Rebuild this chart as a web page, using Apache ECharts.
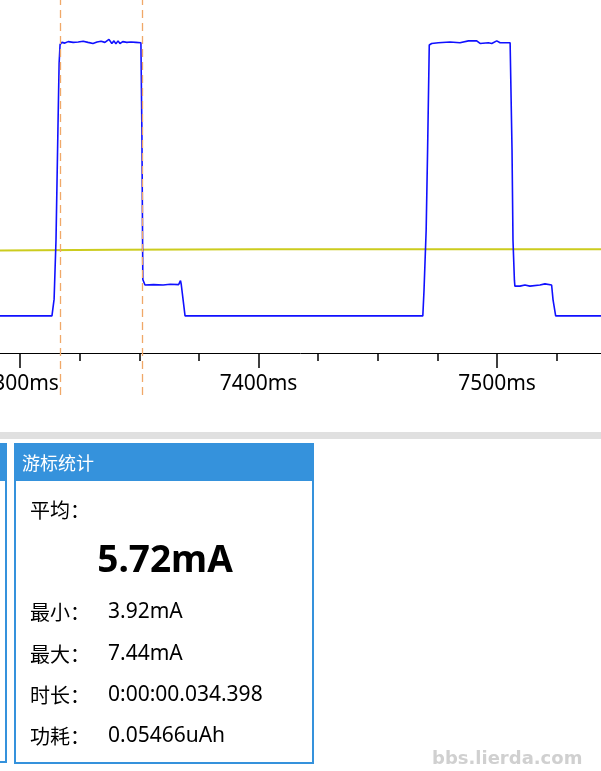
<!DOCTYPE html>
<html>
<head>
<meta charset="utf-8">
<script src="https://cdn.jsdelivr.net/npm/echarts@6/dist/echarts.min.js"></script>
<style>
html,body{margin:0;padding:0;background:#fff;}
#chart{width:601px;height:771px;}
</style>
</head>
<body>
<div id="chart"></div>
<script>
// ---- data (time in ms, current in mA) ----
var blueTime = [7291.6, 7313.4, 7314.3, 7315.1, 7315.9, 7316.4, 7316.8, 7317.6, 7318.8, 7320.2,
  7322.3, 7324.4, 7326.5, 7328.5, 7330.6, 7332.3, 7334.0, 7335.6, 7337.3, 7338.5,
  7339.4, 7340.2, 7341.1, 7341.9, 7343.1, 7344.8, 7346.5, 7348.6, 7350.7, 7351.1,
  7351.5, 7352.4, 7356.0, 7360.0, 7363.0, 7366.5, 7367.3, 7367.6, 7368.2, 7369.2,
  7468.9, 7469.4, 7470.3, 7470.9, 7471.5, 7471.6, 7472.6, 7473.3, 7475.4, 7480.3,
  7484.5, 7488.0, 7491.5, 7492.9, 7496.4, 7497.8, 7499.9, 7501.3, 7505.5, 7505.8,
  7506.3, 7506.7, 7507.3, 7507.5, 7509.6, 7511.7, 7513.8, 7518.0, 7520.1, 7522.9,
  7523.5, 7524.6, 7543.6];
var blueCurrent = [0, 0, 0.45, 2.05, 5.0, 6.8, 7.30, 7.36, 7.34, 7.38,
  7.36, 7.37, 7.39, 7.36, 7.33, 7.37, 7.39, 7.36, 7.44, 7.33,
  7.40, 7.32, 7.40, 7.33, 7.38, 7.36, 7.37, 7.36, 7.35, 5.0,
  0.98, 0.83, 0.84, 0.83, 0.85, 0.84, 0.95, 0.85, 0.80, 0,
  0, 0.69, 2.31, 4.46, 6.88, 7.29, 7.33, 7.29, 7.35, 7.37,
  7.35, 7.40, 7.40, 7.33, 7.35, 7.33, 7.40, 7.35, 7.35, 7.34,
  4.46, 2.04, 0.96, 0.80, 0.80, 0.83, 0.80, 0.83, 0.86, 0.83,
  0.43, 0, 0];
var yellowTime = [7291.6, 7340, 7400, 7460, 7543.6];
var yellowCurrent = [1.76, 1.78, 1.79, 1.79, 1.79];
var cursorTimes = [7316.8, 7351.2];
var statTitle = '游标统计';
var avgLabel = '平均：';
var avgValue = '5.72mA';
var statLabels = ['最小：', '最大：', '时长：', '功耗：'];
var statValues = ['3.92mA', '7.44mA', '0:00:00.034.398', '0.05466uAh'];
var watermark = 'bbs.lierda.com';

function pairs(xs, ys) { return xs.map(function (x, i) { return [x, ys[i]]; }); }

var cjk = '"Noto Sans CJK SC", "Noto Sans", sans-serif';
var latin = '"Noto Sans", "Open Sans", sans-serif';
var panelBlue = '#3592dc';

var graphics = [
  { type: 'rect', shape: { x: 0, y: 432, width: 601, height: 7 }, style: { fill: '#e0e0e0' } },
  // left partial panel
  { type: 'rect', shape: { x: -10, y: 444, width: 16, height: 318 }, style: { fill: 'none', stroke: panelBlue, lineWidth: 2 } },
  { type: 'rect', shape: { x: 0, y: 443, width: 7, height: 38 }, style: { fill: panelBlue } },
  // right panel
  { type: 'rect', shape: { x: 15, y: 444, width: 298, height: 319 }, style: { fill: 'none', stroke: panelBlue, lineWidth: 2 } },
  { type: 'rect', shape: { x: 14, y: 443, width: 300, height: 38 }, style: { fill: panelBlue } },
  { type: 'text', x: 22, y: 463, style: { text: statTitle, fill: '#ffffff', fontSize: 18, fontFamily: cjk, textVerticalAlign: 'middle', verticalAlign: 'middle' } },
  { type: 'text', x: 30, y: 510, style: { text: avgLabel, fill: '#000', fontSize: 20, fontFamily: cjk, textVerticalAlign: 'middle', verticalAlign: 'middle' } },
  { type: 'text', x: 165, y: 561, style: { text: avgValue, fill: '#000', fontSize: 37, fontWeight: 'bold', fontFamily: latin, textAlign: 'center', textVerticalAlign: 'middle', verticalAlign: 'middle', align: 'center' } },
  { type: 'text', x: 432, y: 759, style: { text: watermark, fill: '#d0d0d0', fontSize: 18, fontWeight: 'bold', fontFamily: '"DejaVu Sans", sans-serif', textVerticalAlign: 'middle', verticalAlign: 'middle' } }
];
var rowY = [612, 654, 695, 736];
statLabels.forEach(function (l, i) {
  graphics.push({ type: 'text', x: 30, y: rowY[i], style: { text: l, fill: '#000', fontSize: 20, fontFamily: cjk, textVerticalAlign: 'middle', verticalAlign: 'middle' } });
  graphics.push({ type: 'text', x: 108, y: rowY[i], style: { text: statValues[i], fill: '#000', fontSize: 21, fontFamily: latin, textVerticalAlign: 'middle', verticalAlign: 'middle' } });
});

var chart = echarts.init(document.getElementById('chart'), null, { renderer: 'canvas' });
chart.setOption({
  animation: false,
  backgroundColor: '#ffffff',
  grid: { left: -218.5, right: -134.5, top: 0, bottom: 376, containLabel: false, outerBoundsMode: 'none' },
  xAxis: {
    type: 'value', min: 7200, max: 7600, interval: 100, offset: -42,
    axisLine: { show: true, onZero: false, lineStyle: { color: '#000', width: 1 } },
    axisTick: { show: true, length: 15, lineStyle: { color: '#000', width: 1.5 } },
    minorTick: { show: true, splitNumber: 4, length: 8, lineStyle: { color: '#000', width: 1.5 } },
    splitLine: { show: false },
    minorSplitLine: { show: false },
    axisLabel: { fontSize: 21, color: '#000', margin: 21, fontFamily: latin, hideOverlap: false, formatter: function (v) { return v + 'ms'; } }
  },
  yAxis: { type: 'value', min: -2.13, max: 8.5, show: false, splitLine: { show: false } },
  series: [
    {
      type: 'line', data: pairs(yellowTime, yellowCurrent), showSymbol: false, symbol: 'none',
      lineStyle: { color: '#cccc1e', width: 2 }, z: 2
    },
    {
      type: 'line', data: pairs(blueTime, blueCurrent), showSymbol: false, symbol: 'none',
      lineStyle: { color: '#1010ff', width: 1.6 }, z: 3,
      markLine: {
        silent: true, symbol: ['none', 'none'], label: { show: false },
        lineStyle: { color: '#f0a868', type: [8, 5], width: 1.3 },
        data: cursorTimes.map(function (t) { return { xAxis: t }; })
      }
    }
  ],
  graphic: graphics
});
</script>
</body>
</html>
